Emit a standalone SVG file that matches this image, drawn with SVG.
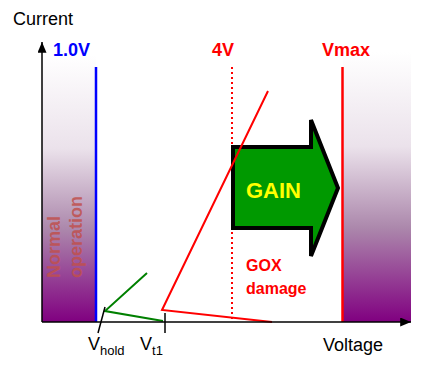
<svg xmlns="http://www.w3.org/2000/svg" width="425" height="372" viewBox="0 0 425 372">
<defs>
<linearGradient id="pg" x1="0" y1="0" x2="0" y2="1">
<stop offset="0" stop-color="#ffffff"/>
<stop offset="0.35" stop-color="#ebe2eb"/>
<stop offset="0.65" stop-color="#ac88ac"/>
<stop offset="1" stop-color="#800080"/>
</linearGradient>
<marker id="ah" viewBox="0 0 12 10" refX="12" refY="5" markerWidth="12" markerHeight="9" markerUnits="userSpaceOnUse" orient="auto">
<path d="M0,0 L12,5 L0,10 z" fill="#000"/>
</marker>
<style>
text{font-family:"Liberation Sans",Arial,sans-serif}
.lbl{font-size:18px;fill:#000}
.b{font-weight:bold}
.red{fill:#ff0000}
.no{fill:#c0504d;fill-opacity:0.85;font-weight:bold;font-size:18px}
</style>
</defs>
<rect width="425" height="372" fill="#fff"/>
<g id="normal-region">
<rect x="42" y="55" width="54" height="267" fill="url(#pg)"/>
<text class="no" transform="translate(60,278) rotate(-90)">Normal</text>
<text class="no" transform="translate(82,278) rotate(-90)">operation</text>
</g>
<g id="vmax-region">
<rect x="343" y="52" width="68" height="270" fill="url(#pg)"/>
</g>
<g id="lines">
<line x1="96" y1="67" x2="96" y2="322" stroke="#0000ff" stroke-width="2.5"/>
<line x1="232" y1="67" x2="232" y2="322" stroke="#ff0000" stroke-width="2" stroke-dasharray="2,3"/>
<line x1="342.5" y1="67" x2="342.5" y2="322" stroke="#ff0000" stroke-width="2.5"/>
</g>
<g id="gain-arrow">
<polygon points="233,147 311,147 311,120 338,188 311,256 311,228 233,228" fill="#009900" stroke="#000" stroke-width="4" stroke-linejoin="miter"/>
<text x="246" y="198" class="b" font-size="22" fill="#ffff00">GAIN</text>
</g>
<g id="curves">
<polyline points="147,273 105,311 163,321" fill="none" stroke="#008000" stroke-width="2"/>
<polyline points="268,91 162,310 272,322" fill="none" stroke="#ff0000" stroke-width="2"/>
<line x1="98" y1="333" x2="105" y2="307" stroke="#000" stroke-width="1.5"/>
<line x1="165" y1="313" x2="165" y2="333" stroke="#000" stroke-width="1.5"/>
</g>
<g id="axes">
<line x1="42" y1="322" x2="42" y2="42" stroke="#000" stroke-width="1.5" marker-end="url(#ah)"/>
<line x1="42" y1="322" x2="411" y2="322" stroke="#000" stroke-width="1.5" marker-end="url(#ah)"/>
</g>
<g id="labels">
<text x="13" y="25" class="lbl">Current</text>
<text x="323" y="351" class="lbl">Voltage</text>
<text x="53" y="56" class="b" font-size="18" fill="#0000ff">1.0V</text>
<text x="212" y="56" class="b red" font-size="18">4V</text>
<text x="322" y="56" class="b red" font-size="18">Vmax</text>
<text x="246" y="271" class="b red" font-size="16">GOX</text>
<text x="246" y="294" class="b red" font-size="16">damage</text>
<text x="88" y="350" class="lbl">V<tspan font-size="13" dy="5">hold</tspan></text>
<text x="140" y="350" class="lbl">V<tspan font-size="13" dy="5">t1</tspan></text>
</g>
</svg>
